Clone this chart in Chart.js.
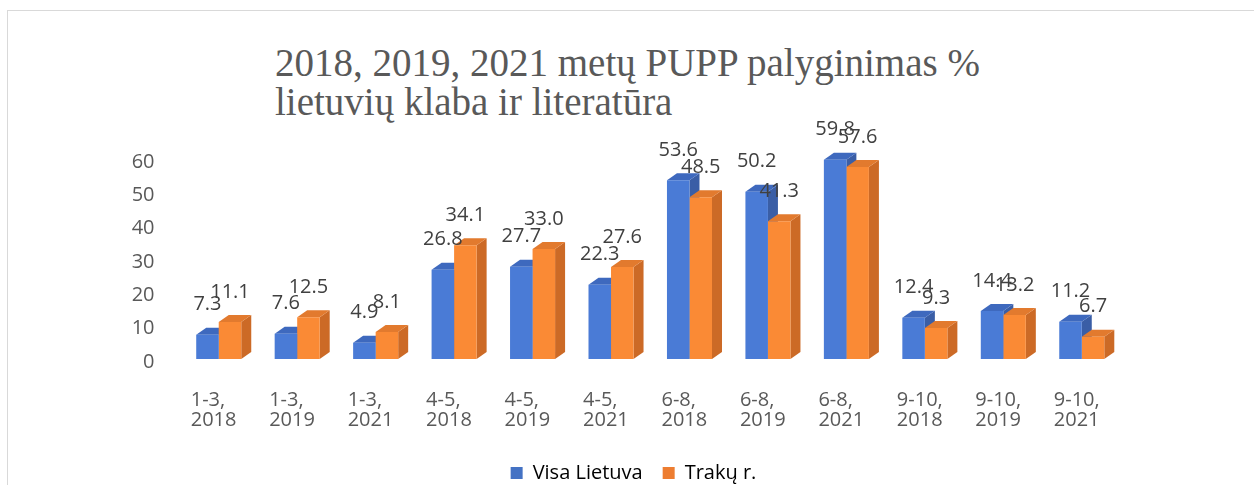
<!DOCTYPE html>
<html>
<head>
<meta charset="utf-8">
<script src="https://cdn.jsdelivr.net/npm/chart.js@4.4.0/dist/chart.umd.min.js"></script>
<style>
  html, body { margin: 0; padding: 0; background: #fff; overflow: hidden; }
  #wrap { position: relative; width: 1254px; height: 485px; }
  #frame { position: absolute; left: 7px; top: 10px; width: 1400px; height: 600px; border: 1px solid #D9D9D9; box-sizing: border-box; }
  #title { position: absolute; left: 275px; top: 43px; font-family: "Liberation Serif", "Times New Roman", serif; font-size: 39px; line-height: 39px; color: #595959; white-space: nowrap; }
  canvas { position: absolute; left: 0; top: 0; }
</style>
</head>
<body>
<div id="wrap">
  <div id="frame"></div>
  <div id="title">2018, 2019, 2021 metų PUPP palyginimas %<br>lietuvių klaba ir literatūra</div>
  <canvas id="c" width="1254" height="485"></canvas>
</div>
<script>
const categories = [
  ["1-3,", "2018"], ["1-3,", "2019"], ["1-3,", "2021"],
  ["4-5,", "2018"], ["4-5,", "2019"], ["4-5,", "2021"],
  ["6-8,", "2018"], ["6-8,", "2019"], ["6-8,", "2021"],
  ["9-10,", "2018"], ["9-10,", "2019"], ["9-10,", "2021"]
];
const visaLietuva = [7.3, 7.6, 4.9, 26.8, 27.7, 22.3, 53.6, 50.2, 59.8, 12.4, 14.4, 11.2];
const trakuR = [11.1, 12.5, 8.1, 34.1, 33.0, 27.6, 48.5, 41.3, 57.6, 9.3, 13.2, 6.7];
const seriesNames = ["Visa Lietuva", "Trakų r."];
const yTicks = [0, 10, 20, 30, 40, 50, 60];

const FRONT = ["#4A7BD6", "#FA8A35"];
const TOP = ["#3E69BE", "#E27A2E"];
const SIDE = ["#3A5EA6", "#CC6A26"];
const LEGEND = ["#4472C4", "#ED7D31"];
const DX = 10, DY = 7;

const depthPlugin = {
  id: 'depth3d',
  beforeDatasetsDraw(chart) {
    const ctx = chart.ctx;
    ctx.save();
    chart.data.datasets.forEach((ds, i) => {
      const meta = chart.getDatasetMeta(i);
      meta.data.forEach(bar => {
        const l = bar.x - bar.width / 2, r = bar.x + bar.width / 2;
        const t = bar.y, b = bar.base;
        ctx.fillStyle = SIDE[i];
        ctx.beginPath();
        ctx.moveTo(r, t); ctx.lineTo(r + DX, t - DY); ctx.lineTo(r + DX, b - DY); ctx.lineTo(r, b);
        ctx.closePath(); ctx.fill();
        ctx.fillStyle = TOP[i];
        ctx.beginPath();
        ctx.moveTo(l, t); ctx.lineTo(l + DX, t - DY); ctx.lineTo(r + DX, t - DY); ctx.lineTo(r, t);
        ctx.closePath(); ctx.fill();
      });
    });
    ctx.restore();
  }
};

const labelPlugin = {
  id: 'valueLabels',
  afterDatasetsDraw(chart) {
    const ctx = chart.ctx;
    ctx.save();
    ctx.font = '20px "Open Sans", sans-serif';
    ctx.fillStyle = '#404040';
    ctx.textAlign = 'center';
    ctx.textBaseline = 'middle';
    chart.data.datasets.forEach((ds, i) => {
      const meta = chart.getDatasetMeta(i);
      meta.data.forEach((bar, j) => {
        ctx.fillText(ds.data[j].toFixed(1), bar.x, bar.y - 30);
      });
    });
    ctx.restore();
  }
};

const legendShift = {
  id: 'legendShift',
  afterLayout(chart) {
    if (chart.legend) { chart.legend.left += 13; chart.legend.right += 13; }
  }
};

new Chart(document.getElementById('c'), {
  type: 'bar',
  data: {
    labels: categories,
    datasets: [
      { label: seriesNames[0], data: visaLietuva, backgroundColor: FRONT[0] },
      { label: seriesNames[1], data: trakuR, backgroundColor: FRONT[1] }
    ]
  },
  plugins: [depthPlugin, labelPlugin, legendShift],
  options: {
    responsive: false,
    animation: false,
    devicePixelRatio: 1,
    layout: { padding: { left: 120, right: 133, top: 159, bottom: -8 } },
    datasets: { bar: { categoryPercentage: 0.574, barPercentage: 1.0 } },
    scales: {
      x: {
        afterFit(scale) { scale.height = 84; },
        grid: { display: false, drawTicks: false },
        border: { display: false },
        ticks: {
          color: '#595959',
          font: { family: '"Open Sans", sans-serif', size: 20, lineHeight: 1.0 },
          padding: 31,
          align: 'start',
          labelOffset: -28,
          maxRotation: 0,
          autoSkip: false
        }
      },
      y: {
        min: 0, max: 60,
        afterFit(scale) { scale.width = 59.5; },
        afterBuildTicks(scale) { scale.ticks = yTicks.map(v => ({ value: v })); },
        grid: { display: false, drawTicks: false },
        border: { display: false },
        ticks: {
          color: '#595959',
          font: { family: '"Open Sans", sans-serif', size: 20 },
          padding: 25,
          labelOffset: 3
        }
      }
    },
    plugins: {
      title: { display: false },
      tooltip: { enabled: false },
      legend: {
        position: 'bottom',
        labels: {
          color: '#595959',
          font: { family: '"Open Sans", sans-serif', size: 20, lineHeight: 1.0 },
          boxWidth: 12, boxHeight: 12,
          padding: 20,
          generateLabels(chart) {
            return seriesNames.map((n, i) => ({
              text: n, fillStyle: LEGEND[i], strokeStyle: LEGEND[i], lineWidth: 0,
              datasetIndex: i, hidden: false
            }));
          }
        }
      }
    }
  }
});
</script>
</body>
</html>
